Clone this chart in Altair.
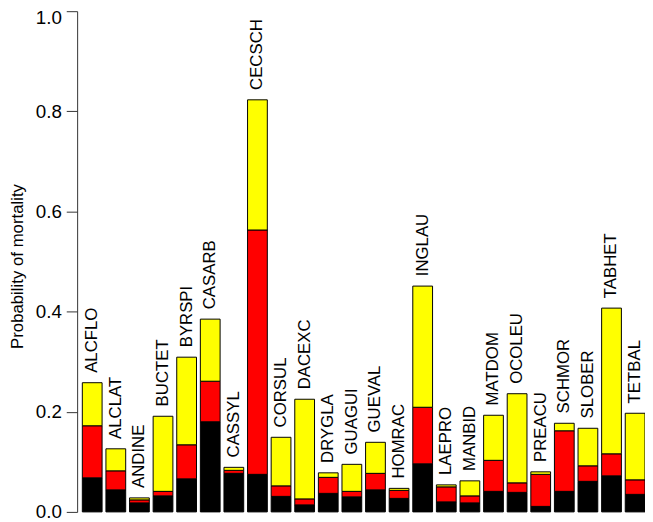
import altair as alt
import pandas as pd

species = ["ALCFLO", "ALCLAT", "ANDINE", "BUCTET", "BYRSPI", "CASARB", "CASSYL",
           "CECSCH", "CORSUL", "DACEXC", "DRYGLA", "GUAGUI", "GUEVAL", "HOMRAC",
           "INGLAU", "LAEPRO", "MANBID", "MATDOM", "OCOLEU", "PREACU", "SCHMOR",
           "SLOBER", "TABHET", "TETBAL"]

# cumulative boundaries of the stacked segments (black bottom, red middle, yellow top)
black_top = [0.068, 0.044, 0.018, 0.032, 0.066, 0.180, 0.077, 0.075, 0.031, 0.014,
             0.037, 0.030, 0.044, 0.027, 0.096, 0.020, 0.018, 0.041, 0.039, 0.011,
             0.041, 0.061, 0.072, 0.035]
red_top = [0.172, 0.082, 0.024, 0.041, 0.134, 0.261, 0.083, 0.563, 0.052, 0.026,
           0.069, 0.041, 0.077, 0.043, 0.209, 0.050, 0.032, 0.103, 0.058, 0.075,
           0.162, 0.092, 0.116, 0.064]
total = [0.258, 0.126, 0.028, 0.191, 0.309, 0.385, 0.089, 0.823, 0.149, 0.225,
         0.078, 0.095, 0.139, 0.047, 0.451, 0.054, 0.062, 0.193, 0.236, 0.080,
         0.177, 0.167, 0.407, 0.197]

y_ticks = [0.0, 0.2, 0.4, 0.6, 0.8, 1.0]

rows = []
for i, s in enumerate(species):
    rows.append({"species": s, "seg": "black", "lo": 0.0, "hi": black_top[i]})
    rows.append({"species": s, "seg": "red", "lo": black_top[i], "hi": red_top[i]})
    rows.append({"species": s, "seg": "yellow", "lo": red_top[i], "hi": total[i]})
seg_df = pd.DataFrame(rows)
lab_df = pd.DataFrame({"species": species, "total": total})

xscale = alt.Scale(paddingInner=0.163, paddingOuter=0.11, align=1)
yscale = alt.Scale(domain=[0, 1], nice=False, zero=True)

bars = alt.Chart(seg_df).mark_bar(stroke="#000000", strokeWidth=1).encode(
    x=alt.X("species:N", sort=species, axis=None, scale=xscale),
    y=alt.Y("lo:Q", scale=yscale,
            axis=alt.Axis(values=y_ticks, format=".1f", title="Probability of mortality",
                          grid=False, tickSize=11, labelPadding=5,
                          labelFontSize=19, labelColor="#000000",
                          labelOffset={"condition": {"test": "datum.value == 1", "value": 6}, "value": 0},
                          domainColor="#333333", tickColor="#333333",
                          titleFontSize=17, titleFontWeight="normal", titleColor="#000000",
                          titleAngle=270, titleX=-60, titleY=258,
                          titleAlign="center", titleBaseline="middle")),
    y2="hi:Q",
    color=alt.Color("seg:N", scale=alt.Scale(domain=["black", "red", "yellow"],
                                             range=["#000000", "#ff0000", "#ffff00"]),
                    legend=None),
)

labels = alt.Chart(lab_df).mark_text(angle=270, align="left", baseline="middle",
                                     dx=10, fontSize=17, color="#000000").encode(
    x=alt.X("species:N", sort=species, axis=None, scale=xscale),
    y=alt.Y("total:Q", scale=yscale),
    text="species:N",
)

chart = alt.layer(bars, labels).properties(
    width=575, height=507, autosize="none",
    padding={"left": 70, "top": 0, "right": 0, "bottom": 7},
).configure(font="Liberation Sans").configure_view(stroke=None)

chart.save("out.html", embed_options={"renderer": "svg", "actions": False})
